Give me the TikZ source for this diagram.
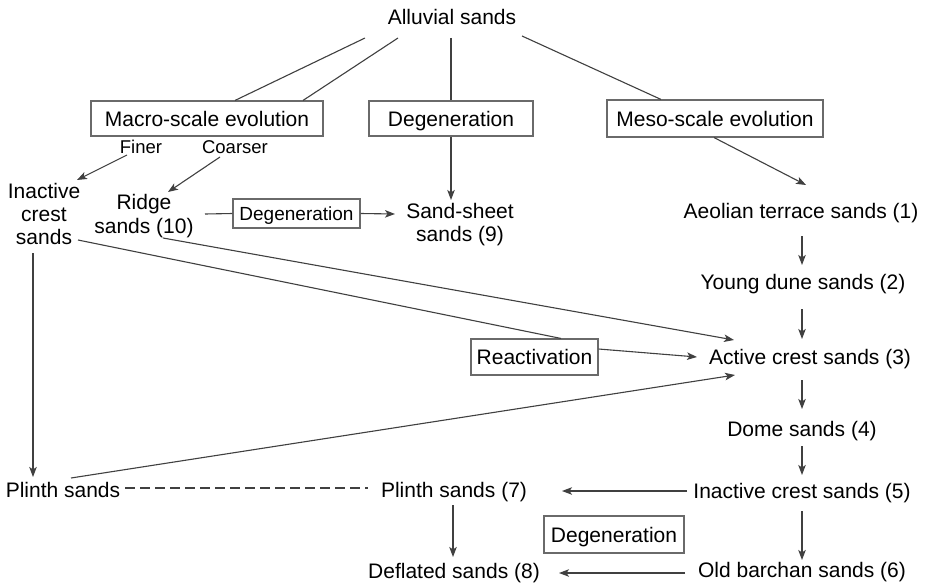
\documentclass[tikz,border=0pt]{standalone}
\usepackage{fontspec}
\setmainfont{Liberation Sans}
\usetikzlibrary{arrows.meta}
\definecolor{linegray}{HTML}{404040}
\definecolor{boxgray}{HTML}{6A6A6A}
\begin{document}
\begin{tikzpicture}[x=1pt,y=-1pt,
  lbl/.style={inner sep=0pt, font=\fontsize{21}{23}\selectfont},
  mlbl/.style={inner sep=0pt, align=center, anchor=north},
  boxn/.style={draw=boxgray, line width=1.1pt, inner sep=0pt, text height=15pt, text depth=0pt, font=\fontsize{21}{24}\selectfont},
  ln/.style={draw=linegray, line width=1.1pt},
  arr/.style={ln, -{Stealth[length=10pt,width=7.5pt,inset=2.5pt]}},
  small/.style={font=\fontsize{18.5}{22}\selectfont, inner sep=0pt}
]
\useasboundingbox[fill=white] (0,0) rectangle (928,586);

% nodes
\node[lbl,anchor=base] (alluvial) at (452,25) {Alluvial sands};
\node[boxn, minimum width=232pt, minimum height=35pt] (macro) at (207,118.5) {Macro-scale evolution};
\node[boxn, minimum width=164pt, minimum height=35pt] (degtop) at (451,118.5) {Degeneration};
\node[boxn, minimum width=216pt, minimum height=37pt] (meso) at (715,118.5) {Meso-scale evolution};
\node[small,anchor=base] (finer) at (141,153) {Finer};
\node[small,anchor=base] (coarser) at (235,153) {Coarser};
\node[mlbl, font=\fontsize{21}{23}\selectfont] (inact) at (44,183) {Inactive\\crest\\sands};
\node[mlbl, font=\fontsize{21}{24}\selectfont] (ridge) at (144,194) {Ridge\\sands (10)};
\node[boxn, font=\fontsize{19}{22}\selectfont, text height=14pt, minimum width=127pt, minimum height=29pt] (degsmall) at (296.5,213.5) {Degeneration};
\node[mlbl, font=\fontsize{21}{23}\selectfont] (sheet) at (460,203) {Sand-sheet\\sands (9)};
\node[lbl,anchor=base] (aeol) at (801,218) {Aeolian terrace sands (1)};
\node[lbl,anchor=base] (young) at (803,289) {Young dune sands (2)};
\node[lbl,anchor=base] (active) at (810,364) {Active crest sands (3)};
\node[boxn, minimum width=127pt, minimum height=36pt] (react) at (534.5,357) {Reactivation};
\node[lbl,anchor=base] (dome) at (802,436) {Dome sands (4)};
\node[lbl,anchor=base] (inact5) at (802,498) {Inactive crest sands (5)};
\node[lbl,anchor=base] (plinthL) at (63,497) {Plinth sands};
\node[lbl,anchor=base] (plinth7) at (454,497) {Plinth sands (7)};
\node[boxn, minimum width=140pt, minimum height=37pt] (degbot) at (614,534.5) {Degeneration};
\node[lbl,anchor=base] (deflated) at (454,578) {Deflated sands (8)};
\node[lbl,anchor=base] (old) at (802,577) {Old barchan sands (6)};

% top connectors
\draw[ln] ([shift={(-87,13)}]alluvial.base) -- ([shift={(28,0)}]macro.north);
\draw[ln] ([shift={(-54,13)}]alluvial.base) -- ([shift={(96,0)}]macro.north);
\draw[ln] ([shift={(-1,13)}]alluvial.base) -- (degtop.north);
\draw[ln] ([shift={(70,11)}]alluvial.base) -- ([shift={(-54,0)}]meso.north);
\draw[arr] (degtop.south) -- ([shift={(-9,-3)}]sheet.north);
\draw[arr] ([shift={(-1,0)}]meso.south) -- ([shift={(5,-33)}]aeol.base);

% finer / coarser
\draw[arr] ([shift={(-14,2)}]finer.base) -- ([shift={(33,-3)}]inact.north);
\draw[arr] ([shift={(-15,4)}]coarser.base) -- ([shift={(24,-2)}]ridge.north);

% ridge degeneration
\draw[ln] ([shift={(61,20)}]ridge.north) -- (degsmall.west);
\draw[arr] (degsmall.east) -- ([shift={(-65,11)}]sheet.north);

% right column
\draw[arr] ([shift={(1,18)}]aeol.base) -- ([shift={(-1,-24)}]young.base);
\draw[arr] ([shift={(-1,20)}]young.base) -- ([shift={(-8,-25)}]active.base);
\draw[arr] ([shift={(-8,16)}]active.base) -- ([shift={(0,-27)}]dome.base);
\draw[arr] ([shift={(0,10)}]dome.base) -- ([shift={(0,-23)}]inact5.base);
\draw[arr] ([shift={(0,13)}]inact5.base) -- ([shift={(0,-17)}]old.base);

% horizontal arrows at the bottom
\draw[arr] ([shift={(-115,-7)}]inact5.base) -- ([shift={(108,-6)}]plinth7.base);
\draw[arr] ([shift={(-117,-4)}]old.base) -- ([shift={(105,-5)}]deflated.base);
\draw[arr] ([shift={(-1,8)}]plinth7.base) -- ([shift={(-1,-21)}]deflated.base);

% left column
\draw[arr] ([shift={(-11,70)}]inact.north) -- ([shift={(-30,-20)}]plinthL.base);
\draw[ln, dash pattern=on 10pt off 5pt] ([shift={(62,-9)}]plinthL.base) -- ([shift={(-86,-9)}]plinth7.base);

% long lines to active crest sands
\draw[arr] ([shift={(19,44)}]ridge.north) -- ([shift={(-76,-24)}]active.base);
\draw[ln] ([shift={(34,57)}]inact.north) -- ([shift={(26.5,0)}]react.north);
\draw[arr] ([shift={(0,-8)}]react.east) -- ([shift={(-113,-7)}]active.base);
\draw[arr] ([shift={(8,-19)}]plinthL.base) -- ([shift={(-75,11)}]active.base);
\end{tikzpicture}
\end{document}
